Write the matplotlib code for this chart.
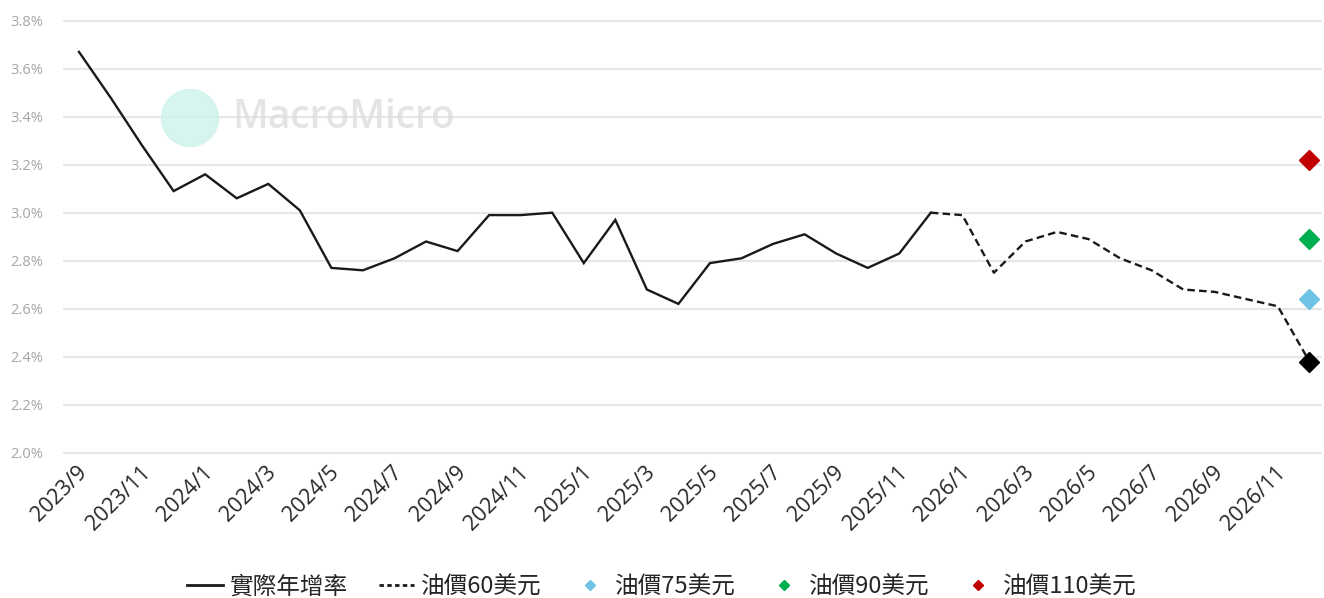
import matplotlib
matplotlib.use("Agg")
import matplotlib.pyplot as plt
from matplotlib.lines import Line2D
from matplotlib.patches import Ellipse
import matplotlib.transforms as mtransforms

plt.rcParams['font.family'] = ['Noto Sans CJK TC', 'DejaVu Sans']

# ---- data ----
months = ["2023/9", "2023/10", "2023/11", "2023/12",
          "2024/1", "2024/2", "2024/3", "2024/4", "2024/5", "2024/6",
          "2024/7", "2024/8", "2024/9", "2024/10", "2024/11", "2024/12",
          "2025/1", "2025/2", "2025/3", "2025/4", "2025/5", "2025/6",
          "2025/7", "2025/8", "2025/9", "2025/10", "2025/11", "2025/12",
          "2026/1", "2026/2", "2026/3", "2026/4", "2026/5", "2026/6",
          "2026/7", "2026/8", "2026/9", "2026/10", "2026/11", "2026/12"]

actual = [3.67, 3.48, 3.28, 3.09, 3.16, 3.06, 3.12, 3.01, 2.77, 2.76,
          2.81, 2.88, 2.84, 2.99, 2.99, 3.00, 2.79, 2.97, 2.68, 2.62,
          2.79, 2.81, 2.87, 2.91, 2.83, 2.77, 2.83, 3.00]

oil60_months = months[27:]
oil60 = [3.00, 2.99, 2.75, 2.88, 2.92, 2.89, 2.81, 2.76, 2.68, 2.67,
         2.64, 2.61, 2.38]

scenario_month = "2026/12"
oil75 = 2.64
oil90 = 2.89
oil110 = 3.22

labels = ["實際年增率", "油價60美元", "油價75美元", "油價90美元", "油價110美元"]
yticks = [2.0, 2.2, 2.4, 2.6, 2.8, 3.0, 3.2, 3.4, 3.6, 3.8]

# ---- figure ----
W, H = 1324, 598
fig = plt.figure(figsize=(W / 100, H / 100), dpi=100)
ax = fig.add_axes([63 / W, 1 - 453.9 / H, (1322 - 63) / W, (453.9 - 19.5) / H])

xpos = {m: i for i, m in enumerate(months)}
xa = [xpos[m] for m in months[:len(actual)]]
x60 = [xpos[m] for m in oil60_months]
xs = xpos[scenario_month]

ax.plot(xa, actual, color='#1a1a1a', lw=1.7, solid_joinstyle='miter', zorder=4)
ax.plot(x60, oil60, color='#1a1a1a', lw=1.7, ls=(0, (3.2, 1.8)), zorder=4)

ax.plot([xs], [oil60[-1]], marker='D', ms=10.5, color='#000000', ls='none', zorder=5)
ax.plot([xs], [oil75], marker='D', ms=10.5, color='#6ec3e4', ls='none', zorder=5)
ax.plot([xs], [oil90], marker='D', ms=10.5, color='#00b050', ls='none', zorder=5)
ax.plot([xs], [oil110], marker='D', ms=10.5, color='#c00000', ls='none', zorder=5)

ax.set_xlim(-0.507, 39.4)
ax.set_ylim(1.995, 3.805)

ax.set_yticks(yticks)
ax.set_yticklabels([f"{v:.1f}%" for v in yticks], color='#a6a6a6', fontsize=10.5,
                   family=['Open Sans', 'DejaVu Sans'])
ax.tick_params(axis='y', length=0, pad=14)

tick_idx = list(range(0, len(months), 2))
ax.set_xticks(tick_idx)
ax.set_xticklabels([months[i] for i in tick_idx], rotation=45, ha='right',
                   va='center', rotation_mode='anchor', fontsize=15.5, color='#262626',
                   family=['Open Sans', 'DejaVu Sans'])
ax.tick_params(axis='x', length=0, pad=11)
offset = mtransforms.ScaledTranslation(5 / 100, 0, fig.dpi_scale_trans)
for lab in ax.get_xticklabels():
    lab.set_transform(lab.get_transform() + offset)

ax.grid(axis='y', color='#e6e6e6', lw=1.5, zorder=0)
ax.set_axisbelow(True)
for s in ax.spines.values():
    s.set_visible(False)

# watermark
circ = Ellipse((190 / W, 1 - 118 / H), 57 / W, 57 / H, transform=fig.transFigure,
               color='#cdf3ec', alpha=0.8, zorder=1)
fig.patches.append(circ)
fig.text(232 / W, 1 - 118 / H, "MacroMicro", fontsize=28, color='#dcdcdc',
         alpha=0.75, va='center', ha='left', family=['Open Sans', 'DejaVu Sans'],
         fontweight='semibold', zorder=1)

handles = [
    Line2D([], [], color='#1a1a1a', lw=2),
    Line2D([], [], color='#1a1a1a', lw=2, ls=(0, (1.6, 1.2))),
    Line2D([], [], color='#6ec3e4', marker='D', ms=5.5, ls='none'),
    Line2D([], [], color='#00b050', marker='D', ms=5.5, ls='none'),
    Line2D([], [], color='#c00000', marker='D', ms=5.5, ls='none'),
]
leg = fig.legend(handles, labels, loc='center', bbox_to_anchor=(0.5, 1 - 587 / H),
                 ncol=5, frameon=False, fontsize=17, handlelength=1.5,
                 handletextpad=0.3, columnspacing=1.3, labelcolor='#262626')

fig.savefig("out.png", dpi=100)
